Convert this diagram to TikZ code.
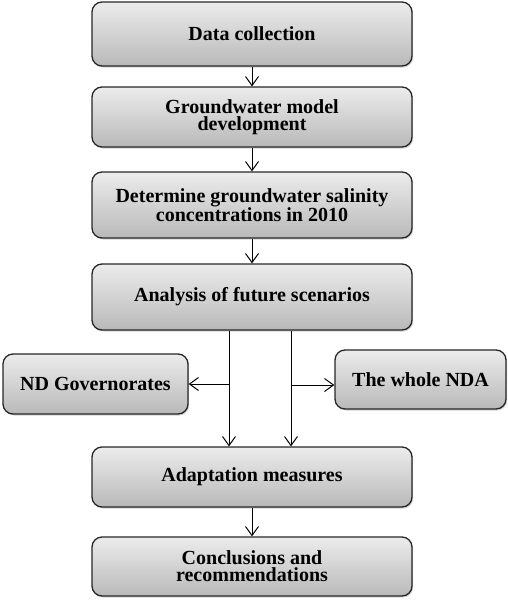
\documentclass[tikz,border=0pt]{standalone}
\usepackage{fontspec}
\setmainfont{Liberation Serif}
\usetikzlibrary{arrows.meta,shadows}
\begin{document}
\begin{tikzpicture}[x=1pt,y=-1pt,
  box/.style={draw=black!85,line width=1.3pt,rounded corners=10pt,
    top color=gray!15,bottom color=gray!55,
    drop shadow={shadow xshift=1.2pt,shadow yshift=-1.5pt,opacity=0.35},
    font=\fontsize{20}{17}\selectfont\bfseries,align=center,inner sep=0pt},
  arr/.style={line width=1pt,-{Straight Barb[length=9pt,width=13pt,line width=1pt]}}]
\useasboundingbox (0,0) rectangle (508,600);
\node[box,minimum width=320pt,minimum height=64pt] (b1) at (252,34) {Data collection};
\node[box,minimum width=320pt,minimum height=60pt] (b2) at (252,117) {Groundwater model\\development};
\node[box,minimum width=320pt,minimum height=66pt] (b3) at (252,205) {Determine groundwater salinity\\concentrations in 2010};
\node[box,minimum width=320pt,minimum height=66pt] (b4) at (252,297) {Analysis of future scenarios};
\node[box,minimum width=185pt,minimum height=60pt] (nd) at (95.5,384) {ND Governorates};
\node[box,minimum width=171pt,minimum height=59pt] (nda) at (420.5,379.5) {The whole NDA};
\node[box,minimum width=320pt,minimum height=60pt] (b5) at (252,477) {Adaptation measures};
\node[box,minimum width=320pt,minimum height=59pt] (b6) at (252,566.5) {Conclusions and\\recommendations};
\coordinate (jl) at (229,384);
\coordinate (jr) at (291,385);
\draw[arr] (b1.south) -- (b2.north);
\draw[arr] (b2.south) -- (b3.north);
\draw[arr] (b3.south) -- (b4.north);
\draw[arr] (b4.south -| jl) -- (b5.north -| jl);
\draw[arr] (b4.south -| jr) -- (b5.north -| jr);
\draw[arr] (jl) -- (nd.east |- jl);
\draw[arr] (jr) -- (nda.west |- jr);
\draw[arr] (b5.south) -- (b6.north);
\end{tikzpicture}
\end{document}
